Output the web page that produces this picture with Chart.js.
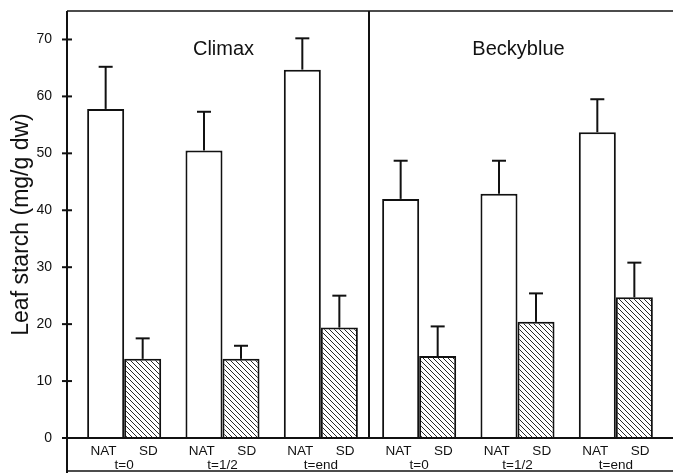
<!DOCTYPE html>
<html lang="en">
<head>
<meta charset="UTF-8">
<title>Leaf starch</title>
<script src="https://cdn.jsdelivr.net/npm/chart.js"></script>
<style>
    html, body { margin: 0; padding: 0; background: #fff; }
    .chart-container { position: relative; width: 673px; height: 473px; }
</style>
</head>
<body>
<div class="chart-container"><canvas id="starchChart"></canvas></div>
<script>
    // Values (Climax t=0, t=1/2, t=end, then Beckyblue)
    const cultivars = ['Climax', 'Beckyblue'];
    const times = ['t=0', 't=1/2', 't=end'];
    const treatments = ['NAT', 'SD'];
    const natValues = [57.8, 50.5, 64.7, 42.0, 42.9, 53.7];
    const natErrors = [7.4, 6.8, 5.5, 6.7, 5.8, 5.8];
    const sdValues = [13.9, 13.9, 19.4, 14.4, 20.4, 24.7];
    const sdErrors = [3.6, 2.3, 5.6, 5.2, 5.0, 6.1];
    const yTicks = [0, 10, 20, 30, 40, 50, 60, 70];

    const family = '"Liberation Sans", Arial, Helvetica, sans-serif';
    const ink = '#111';

    const labels = [];
    cultivars.forEach(() => times.forEach(t => labels.push([treatments.join('      '), t])));

    // hatch fill for the SD bars
    function hatch() {
        const c = document.createElement('canvas');
        c.width = 5; c.height = 5;
        const g = c.getContext('2d');
        g.fillStyle = '#fff';
        g.fillRect(0, 0, 5, 5);
        g.strokeStyle = ink;
        g.lineWidth = 0.9;
        g.beginPath();
        [-5, 0, 5].forEach(o => { g.moveTo(o, 0); g.lineTo(o + 5, 5); });
        g.stroke();
        return g.createPattern(c, 'repeat');
    }

    function line(ctx, x1, y1, x2, y2) {
        ctx.beginPath();
        ctx.moveTo(x1, y1);
        ctx.lineTo(x2, y2);
        ctx.stroke();
    }

    // one-sided error bars (upwards only)
    const errorBars = {
        id: 'errorBars',
        afterDatasetsDraw(chart) {
            const { ctx } = chart;
            const y = chart.scales.y;
            ctx.save();
            ctx.strokeStyle = ink;
            ctx.lineWidth = 2;
            [natErrors, sdErrors].forEach((errs, di) => {
                const data = chart.data.datasets[di].data;
                chart.getDatasetMeta(di).data.forEach((bar, i) => {
                    const top = y.getPixelForValue(data[i] + errs[i]);
                    line(ctx, bar.x, bar.y, bar.x, top);
                    line(ctx, bar.x - 7, top, bar.x + 7, top);
                });
            });
            ctx.restore();
        }
    };

    // box, axes, divider and cultivar names
    const frame = {
        id: 'frame',
        afterDatasetsDraw(chart) {
            const { ctx, chartArea } = chart;
            const { x, y } = chart.scales;
            const W = chart.width, H = chart.height;
            const axisX = chartArea.left - 8;
            const zero = y.getPixelForValue(0);
            ctx.save();
            ctx.strokeStyle = ink;
            ctx.lineWidth = 1.5;
            line(ctx, axisX, chartArea.top, W, chartArea.top);
            line(ctx, axisX, H - 2, W, H - 2);
            ctx.lineWidth = 2;
            line(ctx, axisX, chartArea.top, axisX, H);
            y.ticks.forEach(t => {
                const py = y.getPixelForValue(t.value);
                line(ctx, axisX - 5, py, axisX + 5, py);
            });
            line(ctx, axisX - 5, zero, W, zero);
            const mid = (x.getPixelForValue(2) + x.getPixelForValue(3)) / 2 - 1;
            line(ctx, mid, chartArea.top, mid, zero);

            ctx.fillStyle = ink;
            ctx.font = '20px ' + family;
            ctx.textAlign = 'center';
            ctx.textBaseline = 'alphabetic';
            cultivars.forEach((name, i) => {
                ctx.fillText(name, x.getPixelForValue(i * 3 + 1) + 1, chartArea.top + 44);
            });
            ctx.restore();
        }
    };

    const ctx = document.getElementById('starchChart').getContext('2d');
    new Chart(ctx, {
        type: 'bar',
        data: {
            labels: labels,
            datasets: [
                {
                    label: 'NAT',
                    data: natValues,
                    backgroundColor: '#fff',
                    borderColor: ink,
                    borderWidth: 2,
                    barPercentage: 1,
                    categoryPercentage: 0.753
                },
                {
                    label: 'SD',
                    data: sdValues,
                    backgroundColor: hatch(),
                    borderColor: ink,
                    borderWidth: 2,
                    barPercentage: 1,
                    categoryPercentage: 0.753
                }
            ]
        },
        options: {
            responsive: true,
            maintainAspectRatio: false,
            animation: false,
            layout: { padding: { top: 11, right: 8, bottom: 0, left: 0 } },
            plugins: {
                legend: { display: false },
                tooltip: { enabled: false }
            },
            scales: {
                x: {
                    grid: { display: false, drawTicks: false },
                    border: { display: false },
                    ticks: {
                        color: ink,
                        padding: 7,
                        maxRotation: 0,
                        autoSkip: false,
                        font: { family: family, size: 13.5, lineHeight: 0.98 }
                    },
                    afterFit(s) {
                        s.height = 35;
                        s.paddingLeft = 0;
                        s.paddingRight = 0;
                    }
                },
                y: {
                    min: 0,
                    max: 75,
                    grid: { display: false, drawTicks: false },
                    border: { display: false },
                    afterBuildTicks(s) {
                        s.ticks = yTicks.map(v => ({ value: v }));
                    },
                    afterFit(s) {
                        s.width = 75;
                        s.paddingTop = 0;
                        s.paddingBottom = 0;
                    },
                    ticks: {
                        color: ink,
                        padding: 23,
                        font: { family: family, size: 14 }
                    },
                    title: {
                        display: true,
                        text: 'Leaf starch (mg/g dw)',
                        color: ink,
                        padding: { top: 8, bottom: 0 },
                        font: { family: family, size: 23 }
                    }
                }
            }
        },
        plugins: [errorBars, frame]
    });
</script>
</body>
</html>
